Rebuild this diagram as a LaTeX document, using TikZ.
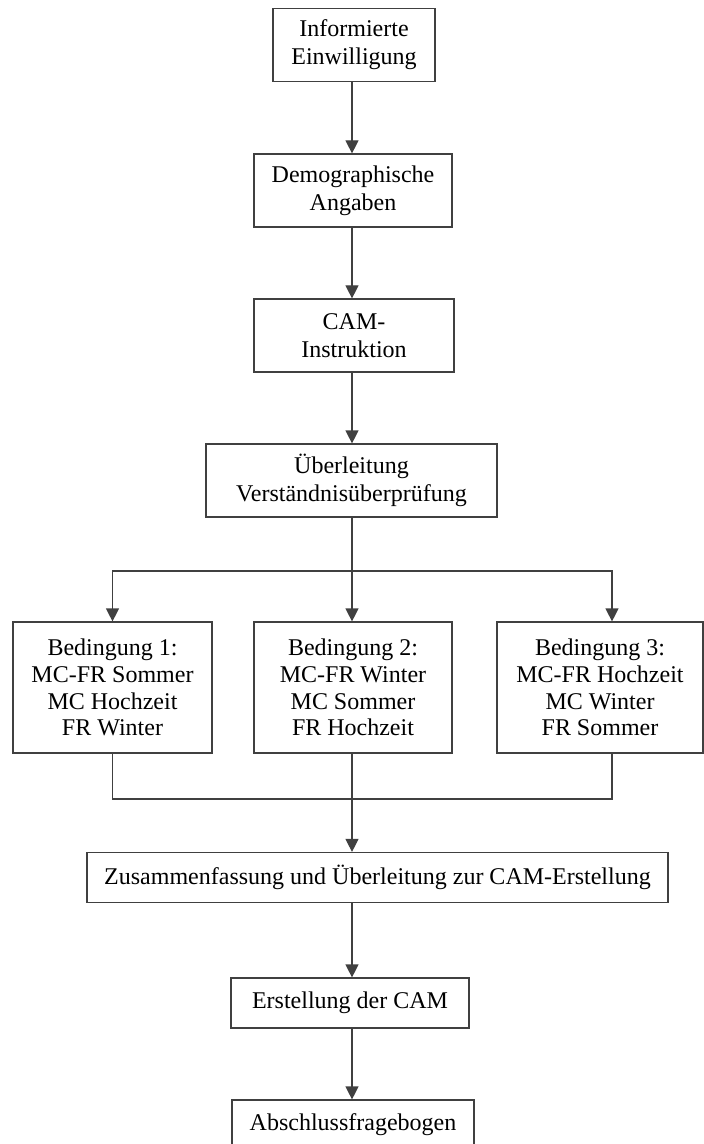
\documentclass[tikz,border=0pt]{standalone}
\usepackage{fontspec}
\setmainfont{Liberation Serif}
\usetikzlibrary{arrows.meta, positioning, calc}

\begin{document}
\begin{tikzpicture}[
          x=0.5pt, y=-0.5pt,
          stepbox/.style={draw=black!75, line width=0.6pt, align=center, inner sep=0pt,
            font=\fontsize{12}{14}\selectfont},
          twoline/.style={stepbox, minimum height=36.5pt},
          oneline/.style={stepbox, minimum height=25pt},
          condbox/.style={stepbox, minimum height=65.5pt, font=\fontsize{12}{13.4}\selectfont},
          flow/.style={draw=black!75, line width=0.6pt},
          >={Triangle[width=6.5pt,length=6.5pt]}
        ]
        \useasboundingbox (0,0) rectangle (704,1144);
        % linear part
        \node [twoline, minimum width=81pt] (inform) at (354,45) {Informierte\\Einwilligung};
        \node [twoline, minimum width=99pt] (demo) at (353,190.5) {Demographische\\Angaben};
        \node [twoline, minimum width=100pt] (instr) at (354,335.5) {CAM-\\Instruktion};
        \node [twoline, minimum width=145.5pt] (ueber) at (351.5,480.5) {Überleitung\\Verständnisüberprüfung};
        % conditions
        \node [condbox, minimum width=99.5pt] (bed1) at (112.5,687.5) {Bedingung 1:\\MC-FR Sommer\\MC Hochzeit\\FR Winter};
        \node [condbox, minimum width=99pt] (bed2) at (353,687.5) {Bedingung 2:\\MC-FR Winter\\MC Sommer\\FR Hochzeit};
        \node [condbox, minimum width=103pt] (bed3) at (600,687.5) {Bedingung 3:\\MC-FR Hochzeit\\MC Winter\\FR Sommer};
        % final part
        \node [oneline, minimum width=290.5pt] (zus) at (377.5,877.5) {Zusammenfassung und Überleitung zur CAM-Erstellung};
        \node [oneline, minimum width=119pt] (erst) at (350,1003) {Erstellung der CAM};
        \node [oneline, minimum width=121pt] (absch) at (353,1125) {Abschlussfragebogen};

        \coordinate (split) at (352,571);
        \coordinate (join) at (352,799);
        \coordinate (right) at (612,0);

        \draw [flow, ->] (inform.south -| split) -- (demo.north -| split);
        \draw [flow, ->] (demo.south -| split) -- (instr.north -| split);
        \draw [flow, ->] (instr.south -| split) -- (ueber.north -| split);
        \draw [flow] (ueber.south -| split) -- (split);
        \draw [flow, ->] (split) -| (bed1.north);
        \draw [flow, ->] (split) -- (bed2.north -| split);
        \draw [flow, ->] (split) -| (bed3.north -| right);
        \draw [flow] (bed1.south) |- (join);
        \draw [flow] (bed3.south -| right) |- (join);
        \draw [flow] (bed2.south -| join) -- (join);
        \draw [flow, ->] (join) -- (zus.north -| join);
        \draw [flow, ->] (zus.south -| join) -- (erst.north -| join);
        \draw [flow, ->] (erst.south -| join) -- (absch.north -| join);
        \end{tikzpicture}
\end{document}
